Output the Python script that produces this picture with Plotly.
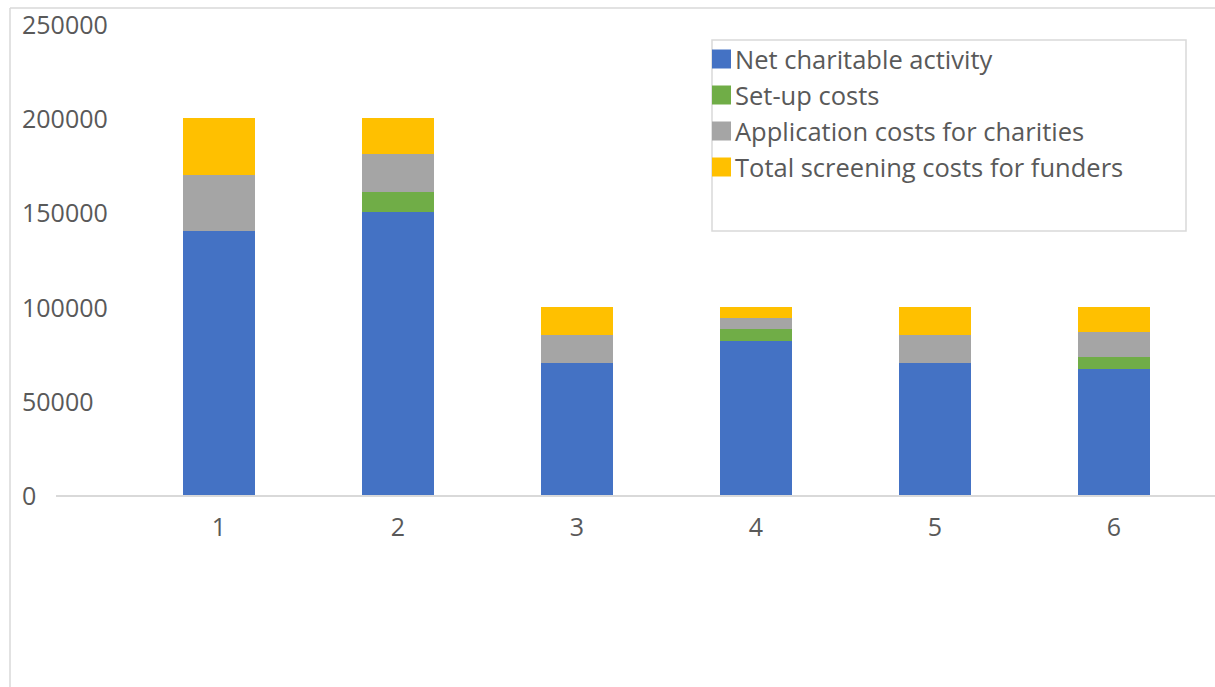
import plotly.graph_objects as go

# Scenario numbers on the category axis
categories = [1, 2, 3, 4, 5, 6]

# Stacked cost components per scenario
net_charitable = [140000, 150000, 70000, 82000, 70000, 67000]
setup_costs = [0, 11000, 0, 6000, 0, 6000]
application_costs = [30000, 20000, 15000, 6000, 15000, 13500]
screening_costs = [30000, 19000, 15000, 6000, 15000, 13500]

series_names = [
    "Net charitable activity",
    "Set-up costs",
    "Application costs for charities",
    "Total screening costs for funders",
]
series_values = [net_charitable, setup_costs, application_costs, screening_costs]
series_colors = ["#4472C4", "#70AD47", "#A5A5A5", "#FFC000"]

y_ticks = [0, 50000, 100000, 150000, 200000, 250000]

W, H = 1215, 687
ML, MR, MT, MB = 56, 0, 24, 192
PW, PH = W - ML - MR, H - MT - MB
TEXT = "#595959"
FONT = "Open Sans"


def px_x(p):
    return (p - ML) / PW


def px_y(p):
    return (H - MB - p) / PH


fig = go.Figure()
for name, vals, col in zip(series_names, series_values, series_colors):
    fig.add_trace(go.Bar(
        x=categories, y=vals, name=name, marker=dict(color=col, line=dict(width=0)),
        width=0.402, showlegend=False,
    ))

shapes = []
annotations = []

# value-axis labels, left aligned
for t in y_ticks:
    annotations.append(dict(
        x=px_x(20), xref="paper", y=t, yref="y", text=str(t), showarrow=False,
        xanchor="left", yanchor="middle", font=dict(family=FONT, size=25, color=TEXT),
    ))

# chart frame (left and top edges)
shapes.append(dict(type="line", xref="paper", yref="paper", x0=px_x(10), x1=px_x(10),
                   y0=px_y(8), y1=px_y(H + 2), line=dict(color="#D9D9D9", width=1.5)))
shapes.append(dict(type="line", xref="paper", yref="paper", x0=px_x(10), x1=px_x(W + 2),
                   y0=px_y(8), y1=px_y(8), line=dict(color="#D9D9D9", width=1.5)))

# legend box
shapes.append(dict(type="rect", xref="paper", yref="paper", x0=px_x(712), x1=px_x(1186),
                   y0=px_y(231), y1=px_y(40), line=dict(color="#D9D9D9", width=1.5),
                   fillcolor="rgba(0,0,0,0)"))
row0, step = 59, 36
for i, (name, col) in enumerate(zip(series_names, series_colors)):
    cy = row0 + i * step
    shapes.append(dict(type="rect", xref="paper", yref="paper", x0=px_x(712), x1=px_x(731),
                       y0=px_y(cy + 9.5), y1=px_y(cy - 9.5), line=dict(width=0), fillcolor=col))
    annotations.append(dict(
        x=px_x(733), xref="paper", y=px_y(cy), yref="paper", text=name, showarrow=False,
        xanchor="left", yanchor="middle", font=dict(family=FONT, size=25.5, color=TEXT),
    ))

x0 = 1 - (219 - ML) / 179
x1 = x0 + PW / 179

fig.update_layout(
    width=W, height=H, autosize=False,
    margin=dict(l=ML, r=MR, t=MT, b=MB, pad=0),
    barmode="stack", bargap=0,
    paper_bgcolor="white", plot_bgcolor="white",
    font=dict(family=FONT, color=TEXT),
    xaxis=dict(range=[x0, x1], tickvals=categories, ticktext=[str(c) for c in categories],
               showgrid=False, zeroline=False, showline=True, linecolor="#D9D9D9", linewidth=2,
               ticks="", ticklabelstandoff=9, tickfont=dict(family=FONT, size=25, color=TEXT)),
    yaxis=dict(range=[0, 250000], showgrid=False, zeroline=False, showline=False,
               showticklabels=False, fixedrange=True),
    shapes=shapes, annotations=annotations,
    showlegend=False,
)

fig.write_html("out.html")
